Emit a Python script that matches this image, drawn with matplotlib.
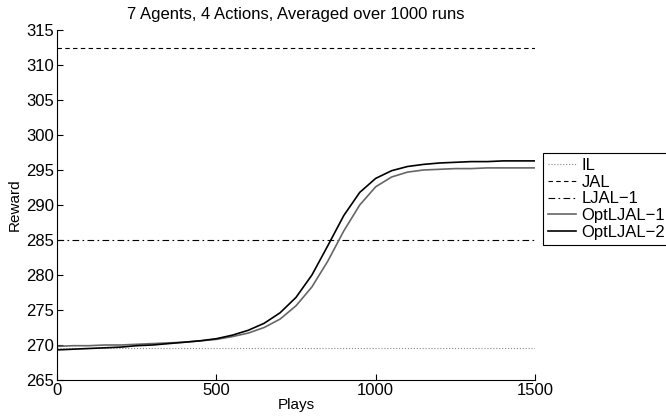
import matplotlib
matplotlib.use('Agg')
import matplotlib.pyplot as plt

plt.rcParams['font.family'] = ['Liberation Sans', 'DejaVu Sans']
plt.rcParams['font.size'] = 10

# values (every 50 plays)
plays = list(range(0, 1501, 50))
opt_ljal_1 = [269.8, 269.9, 269.9, 270.0, 270.0, 270.1, 270.2, 270.3, 270.4, 270.6,
              270.8, 271.2, 271.7, 272.5, 273.7, 275.6, 278.3, 282.0, 286.3, 290.0,
              292.6, 294.0, 294.7, 295.0, 295.1, 295.2, 295.2, 295.3, 295.3, 295.3, 295.3]
opt_ljal_2 = [269.3, 269.4, 269.5, 269.6, 269.7, 269.9, 270.0, 270.2, 270.4, 270.6,
              270.9, 271.4, 272.1, 273.1, 274.6, 276.8, 280.0, 284.2, 288.5, 291.8,
              293.8, 294.9, 295.5, 295.8, 296.0, 296.1, 296.2, 296.2, 296.3, 296.3, 296.3]
il_level = 269.6
jal_level = 312.4
ljal_level = 285.0

fig = plt.figure(figsize=(6.66, 4.18), dpi=100)
ax = fig.add_axes([57/666, 1 - 380/418, 478/666, 350/418])

ax.plot([0, 1500], [il_level] * 2, ls=':', color='#888888', lw=0.8, label='IL')
ax.plot([0, 1500], [jal_level] * 2, ls=(0, (4, 3)), color='black', lw=0.8, label='JAL')
ax.plot([0, 1500], [ljal_level] * 2, ls=(0, (6, 3, 1.5, 3)), color='black', lw=0.8, label='LJAL\u22121')
ax.plot(plays, opt_ljal_1, color='#666666', lw=1.2, label='OptLJAL\u22121')
ax.plot(plays, opt_ljal_2, color='black', lw=1.2, label='OptLJAL\u22122')

ax.set_xlim(0, 1500)
ax.set_ylim(265, 315)
ax.set_xticks([0, 500, 1000, 1500])
ax.set_yticks(range(265, 316, 5))
ax.spines['top'].set_visible(False)
ax.spines['right'].set_visible(False)
ax.tick_params(direction='in', length=4, width=0.8, pad=2, labelsize=12)
ax.set_xlabel('Plays', labelpad=0, fontsize=11)
ax.set_ylabel('Reward', labelpad=3, fontsize=11)
ax.set_title('7 Agents, 4 Actions, Averaged over 1000 runs', pad=8, fontsize=12)

leg = fig.legend(loc='upper left', bbox_to_anchor=(543/666, 1 - 153/418),
                 borderaxespad=0, fancybox=False, framealpha=1, edgecolor='black',
                 fontsize=12, handlelength=1.7, handletextpad=0.3,
                 labelspacing=0.1, borderpad=0.3)
leg.get_frame().set_linewidth(0.8)

fig.savefig('out.png', dpi=100)
